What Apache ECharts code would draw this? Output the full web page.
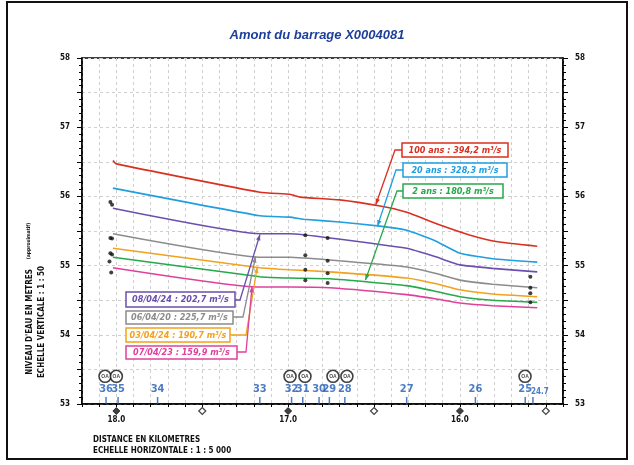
<!DOCTYPE html>
<html>
<head>
<meta charset="utf-8">
<script src="https://cdn.jsdelivr.net/npm/echarts@6/dist/echarts.min.js"></script>
<style>
  html, body { margin: 0; padding: 0; background: #fff; }
  #chart { width: 634px; height: 465px; }
</style>
</head>
<body>
<div id="chart"></div>
<script>
// profils en long : [distance km, niveau m]
const crue100 = [[18.02, 56.52], [18.0, 56.47], [17.164, 56.06], [16.99, 56.03], [16.93, 55.99], [16.70, 55.95], [16.465, 55.86], [16.31, 55.77], [16.12, 55.59], [15.94, 55.44], [15.77, 55.34], [15.55, 55.28]]
const crue20 = [[18.02, 56.12], [17.164, 55.72], [16.99, 55.70], [16.91, 55.67], [16.70, 55.63], [16.465, 55.57], [16.31, 55.51], [16.145, 55.36], [16.0, 55.18], [15.81, 55.10], [15.55, 55.05]]
const obs240408 = [[18.02, 55.83], [17.164, 55.46], [16.99, 55.46], [16.757, 55.40], [16.31, 55.25], [16.145, 55.13], [16.0, 55.01], [15.81, 54.96], [15.55, 54.91]]
const obs200406 = [[18.02, 55.46], [17.164, 55.12], [16.99, 55.12], [16.757, 55.08], [16.31, 54.98], [16.145, 54.89], [16.0, 54.79], [15.81, 54.73], [15.55, 54.68]]
const obs240403 = [[18.02, 55.25], [17.164, 54.97], [16.99, 54.94], [16.757, 54.91], [16.31, 54.82], [16.145, 54.74], [16.0, 54.65], [15.81, 54.59], [15.55, 54.55]]
const crue2 = [[18.02, 55.12], [17.164, 54.84], [16.99, 54.82], [16.757, 54.81], [16.31, 54.71], [16.145, 54.63], [16.0, 54.55], [15.81, 54.50], [15.55, 54.47]]
const obs230407 = [[18.02, 54.97], [17.164, 54.69], [16.99, 54.69], [16.757, 54.68], [16.31, 54.58], [16.145, 54.52], [16.0, 54.46], [15.81, 54.42], [15.55, 54.39]]

// laisses de crue relevees (points noirs)
const laisses = [[18.035, 55.92], [18.025, 55.88], [18.035, 55.40], [18.025, 55.39], [18.035, 55.18], [18.025, 55.16], [18.04, 55.06], [18.03, 54.90],
  [16.90, 55.44], [16.90, 55.15], [16.90, 54.94], [16.90, 54.79],
  [16.77, 55.40], [16.77, 55.07], [16.77, 54.89], [16.77, 54.75],
  [15.59, 54.84], [15.59, 54.68], [15.59, 54.60], [15.59, 54.47]]

// numeros de profils en travers
const profilNoms = ['36', '35', '34', '33', '32', '31', '30', '29', '28', '27', '26', '25', '24.7']
const profilKm = [18.06, 17.99, 17.76, 17.165, 16.98, 16.915, 16.82, 16.76, 16.67, 16.31, 15.91, 15.62, 15.575]

// ouvrages (symboles cercles)
const ouvragesKm = [18.066, 18.0, 16.989, 16.902, 16.739, 16.658, 15.621]
const ouvragesNiv = 53.40

// reperes km sous l'axe
const kmReperes = [18.0, 17.5, 17.0, 16.5, 16.0, 15.5]

const FONT = '"Liberation Sans Narrow", "DejaVu Sans Condensed", sans-serif'

const lignes = [
  { nom: '100 ans', data: crue100, color: '#d9301f' },
  { nom: '20 ans', data: crue20, color: '#1f9ee0' },
  { nom: '08/04/24', data: obs240408, color: '#6b4fae' },
  { nom: '06/04/20', data: obs200406, color: '#8c8c8c' },
  { nom: '03/04/24', data: obs240403, color: '#f2a21c' },
  { nom: '2 ans', data: crue2, color: '#27a84a' },
  { nom: '07/04/23', data: obs230407, color: '#e0409c' }
]

const isInt = v => Math.abs(v - Math.round(v)) < 1e-6

const yAxisBase = {
  type: 'value', min: 53, max: 58, interval: 0.5,
  axisLine: { show: true, lineStyle: { color: '#000', width: 1.5 } },
  axisTick: { show: true, length: 5, lineStyle: { color: '#000' } },
  minorTick: { show: true, splitNumber: 5, length: 3, lineStyle: { color: '#000' } },
  axisLabel: {
    formatter: v => isInt(v) ? String(Math.round(v)) : '',
    fontSize: 8, fontWeight: 'bold', color: '#111', fontFamily: FONT, margin: 12
  }
}

const chart = echarts.init(document.getElementById('chart'))

const option = {
  animation: false,
  backgroundColor: '#fff',
  title: {
    text: 'Amont du barrage X0004081',
    left: 'center', top: 24,
    textStyle: { color: '#1d3f9c', fontSize: 13, fontWeight: 'bold', fontStyle: 'italic', fontFamily: 'Liberation Sans, Arial, sans-serif' }
  },
  grid: { left: 82, right: 71, top: 58, bottom: 61, show: true, borderColor: '#000', borderWidth: 1.5 },
  xAxis: {
    type: 'value', min: 15.4, max: 18.2, interval: 0.1, inverse: true,
    axisLine: { onZero: false, lineStyle: { color: '#000', width: 1.5 } },
    axisTick: { length: 3, lineStyle: { color: '#000' } },
    axisLabel: {
      formatter: v => isInt(v) ? v.toFixed(1) : '',
      fontSize: 8, fontWeight: 'bold', color: '#111', fontFamily: FONT, margin: 12
    },
    splitLine: { show: true, lineStyle: { color: '#cfcfcf', type: [3, 3], width: 1 } }
  },
  yAxis: [
    Object.assign({}, yAxisBase, {
      position: 'left',
      splitLine: { show: true, lineStyle: { color: '#cfcfcf', type: [3, 3], width: 1 } }
    }),
    Object.assign({}, yAxisBase, { position: 'right', splitLine: { show: false } })
  ],
  series: [
    ...lignes.map(l => ({
      name: l.nom, type: 'line', data: l.data, yAxisIndex: 0,
      symbol: 'none', smooth: 0.15,
      lineStyle: { color: l.color, width: 1.6 }, z: 3
    })),
    {
      name: 'laisses', type: 'scatter', data: laisses, symbol: 'circle', symbolSize: 4,
      itemStyle: { color: '#111' }, z: 5
    },
    {
      name: 'profils', type: 'scatter', clip: false,
      data: profilKm.map((k, i) => ({
        value: [k, 53], name: profilNoms[i],
        label: profilNoms[i] === '24.7' ? { fontSize: 8, offset: [7, 1] } : undefined
      })),
      symbol: 'rect', symbolSize: [1.5, 7], symbolOffset: [0, -3.5],
      itemStyle: { color: '#1f5bb5' },
      label: {
        show: true, position: 'top', distance: 2, formatter: p => p.name,
        color: '#1f5bb5', fontSize: 11, fontWeight: 'bold', fontFamily: FONT
      }, z: 6
    },
    {
      name: 'ouvrages', type: 'scatter', clip: false,
      data: ouvragesKm.map(k => [k, ouvragesNiv]),
      symbol: 'circle', symbolSize: 12,
      itemStyle: { color: '#fff', borderColor: '#111', borderWidth: 1.6 },
      label: { show: true, position: 'inside', formatter: 'OA', fontSize: 5, fontWeight: 'bold', color: '#111' },
      z: 6
    },
    {
      name: 'reperes', type: 'scatter', clip: false,
      data: kmReperes.map(k => ({
        value: [k, 53],
        itemStyle: isInt(k) ? { color: '#111', borderColor: '#111' } : { color: '#fff', borderColor: '#111', borderWidth: 1.2 }
      })),
      symbol: 'diamond', symbolSize: 7, symbolOffset: [0, 7], z: 6
    }
  ]
}

chart.setOption(option)

// cartouches et fleches de rappel
const px = p => chart.convertToPixel({ gridIndex: 0 }, p)

function fleche(pts, color) {
  const [x1, y1] = pts[pts.length - 2]
  const [x2, y2] = pts[pts.length - 1]
  const a = Math.atan2(y2 - y1, x2 - x1), L = 6, W = 2.2
  const c = Math.cos(a), s = Math.sin(a)
  const tete = [[x2, y2], [x2 - L * c + W * s, y2 - L * s - W * c], [x2 - L * c - W * s, y2 - L * s + W * c]]
  return [
    { type: 'polyline', shape: { points: pts }, style: { stroke: color, lineWidth: 1.3, fill: null }, z: 20 },
    { type: 'polygon', shape: { points: tete }, style: { fill: color }, z: 20 }
  ]
}

function cartouche(x, y, w, h, texte, color) {
  return [
    { type: 'rect', shape: { x: x, y: y, width: w, height: h }, style: { fill: '#fff', stroke: color, lineWidth: 1.5 }, z: 21 },
    {
      type: 'text', x: x + w / 2, y: y + h / 2 + 0.5, z: 22,
      style: { text: texte, fill: color, fontSize: 9, fontStyle: 'italic', fontWeight: 'bold', fontFamily: FONT, align: 'center', verticalAlign: 'middle' }
    }
  ]
}

const texteAxe = (t, x, y, size) => ({
  type: 'text', x: x, y: y, rotation: Math.PI / 2, z: 22,
  style: { text: t, fill: '#111', fontSize: size, fontWeight: 'bold', fontFamily: FONT, align: 'center', verticalAlign: 'middle' }
})

const graphic = [
  { type: 'rect', shape: { x: 7, y: 2, width: 620, height: 457 }, style: { fill: null, stroke: '#111', lineWidth: 2 }, z: 1 },
  ...fleche([[402, 150], [395, 150], px([16.49, 55.88])], '#d9301f'),
  ...fleche([[403, 170], [396, 170], px([16.48, 55.57])], '#1f9ee0'),
  ...fleche([[403, 191], [397, 191], px([16.55, 54.79])], '#27a84a'),
  ...fleche([[235, 300], [240, 300], px([17.164, 55.45])], '#6b4fae'),
  ...fleche([[233, 317], [243, 317], px([17.19, 55.13])], '#8c8c8c'),
  ...fleche([[230, 335], [246, 335], px([17.18, 54.98])], '#f2a21c'),
  ...fleche([[237, 352], [246, 352], px([17.21, 54.70])], '#e0409c'),
  ...cartouche(402, 143, 106, 14, '100 ans : 394,2 m³/s', '#d9301f'),
  ...cartouche(403, 163, 104, 14, '20 ans : 328,3 m³/s', '#1f9ee0'),
  ...cartouche(403, 184, 100, 14, '2 ans : 180,8 m³/s', '#27a84a'),
  ...cartouche(126, 292, 109, 15, '08/04/24 : 202,7 m³/s', '#6b4fae'),
  ...cartouche(126, 311, 107, 13, '06/04/20 : 225,7 m³/s', '#8c8c8c'),
  ...cartouche(126, 328, 104, 14, '03/04/24 : 190,7 m³/s', '#f2a21c'),
  ...cartouche(126, 346, 111, 13, '07/04/23 : 159,9 m³/s', '#e0409c'),
  texteAxe("NIVEAU D'EAU EN METRES", 30, 322, 8),
  texteAxe('(approximatif)', 29, 241, 5),
  texteAxe('ECHELLE VERTICALE : 1 : 50', 42, 322, 8),
  {
    type: 'text', x: 93, y: 440, z: 22,
    style: { text: 'DISTANCE EN KILOMETRES', fill: '#111', fontSize: 8, fontWeight: 'bold', fontFamily: FONT, verticalAlign: 'middle' }
  },
  {
    type: 'text', x: 93, y: 451, z: 22,
    style: { text: 'ECHELLE HORIZONTALE : 1 : 5 000', fill: '#111', fontSize: 8, fontWeight: 'bold', fontFamily: FONT, verticalAlign: 'middle' }
  }
]

chart.setOption({ graphic: graphic })
</script>
</body>
</html>
